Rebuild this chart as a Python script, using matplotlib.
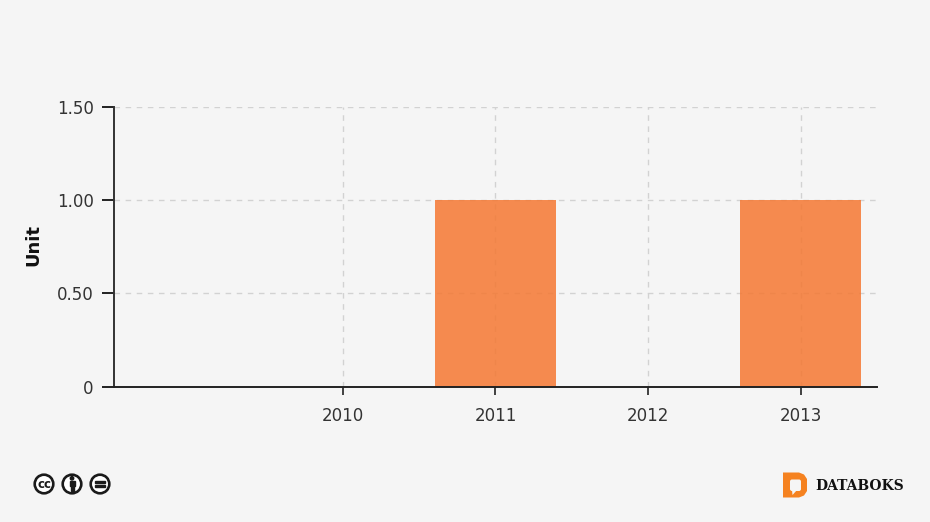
import matplotlib
matplotlib.use("Agg")
import matplotlib.pyplot as plt
from matplotlib.patches import Circle, Polygon, Rectangle, FancyBboxPatch

tahun = [2010, 2011, 2012, 2013]
nilai = [0, 1, 0, 1]
label_y = [0, 0.5, 1.0, 1.5]
teks_y = ["0", "0.50", "1.00", "1.50"]

W, H = 930, 522
bg = "#f5f5f5"
gelap = "#333333"

fig = plt.figure(figsize=(W / 100, H / 100), dpi=100, facecolor=bg)
ax = fig.add_axes([114 / W, 1 - 386.7 / H, (877 - 114) / W, (386.7 - 106.6) / H], facecolor=bg)

ax.bar(tahun, nilai, width=0.795, color="#f57832", alpha=0.85, linewidth=0, zorder=3)
ax.grid(True, color="#d2d2d2", linestyle=(0, (4, 4)), linewidth=1, zorder=1)
ax.set_axisbelow(True)

ax.set_xlim(2008.5, 2013.5)
ax.set_ylim(0, 1.5)
ax.set_xticks(tahun)
ax.set_yticks(label_y)
ax.set_yticklabels(teks_y)
ax.tick_params(axis="x", length=6, width=1.3, color=gelap, labelcolor=gelap, labelsize=12, pad=8.3)
ax.tick_params(axis="y", length=9, width=1.3, color="#111111", labelcolor=gelap, labelsize=12, pad=5.5)
ax.set_ylabel("Unit", fontsize=13, fontweight="bold", color="#111111", labelpad=10.5, y=0.505)

ax.spines["top"].set_visible(False)
ax.spines["right"].set_visible(False)
ax.spines["left"].set_linewidth(1.4)
ax.spines["left"].set_color(gelap)
ax.spines["bottom"].set_linewidth(1.4)
ax.spines["bottom"].set_color("#222222")
ax.spines["bottom"].set_zorder(5)

# lapisan piksel untuk ikon lisensi dan logo
ov = fig.add_axes([0, 0, 1, 1], facecolor="none")
ov.set_xlim(0, W)
ov.set_ylim(H, 0)
ov.axis("off")

for cx in [44, 72, 100]:
    ov.add_patch(Circle((cx, 484), 9.3, facecolor="white", edgecolor="#1a1a1a", linewidth=1.9))

ov.text(44, 484, "cc", fontsize=8.5, fontweight="bold", color="#1a1a1a", ha="center", va="center")

# orang
ov.add_patch(Circle((72, 478.3), 1.7, color="#1a1a1a"))
ov.add_patch(Rectangle((69.5, 480.5), 5, 5.5, color="#1a1a1a"))
ov.add_patch(Rectangle((70.5, 485), 3, 6, color="#1a1a1a"))

# tanda sama dengan
ov.add_patch(Rectangle((95, 480.6), 10, 2.2, color="#1a1a1a"))
ov.add_patch(Rectangle((95, 485.2), 10, 2.2, color="#1a1a1a"))

# logo D
ov.add_patch(Polygon([(783, 472.5), (799, 472.5), (804, 474.5), (807, 479), (807, 491), (804, 495.5),
                      (799, 497.5), (783, 497.5)], closed=True, facecolor="#f58220", edgecolor="none"))
ov.add_patch(FancyBboxPatch((790, 479.5), 11, 11.5, boxstyle="round,pad=0,rounding_size=2",
                            facecolor=bg, edgecolor="none"))
ov.add_patch(Polygon([(792, 490), (797, 490), (792.5, 495)], closed=True, facecolor=bg, edgecolor="none"))
ov.text(815, 486, "DATABOKS", fontsize=10, fontweight="bold", family="DejaVu Serif",
        color="#111111", ha="left", va="center")

fig.savefig("out.png", dpi=100, facecolor=bg)
